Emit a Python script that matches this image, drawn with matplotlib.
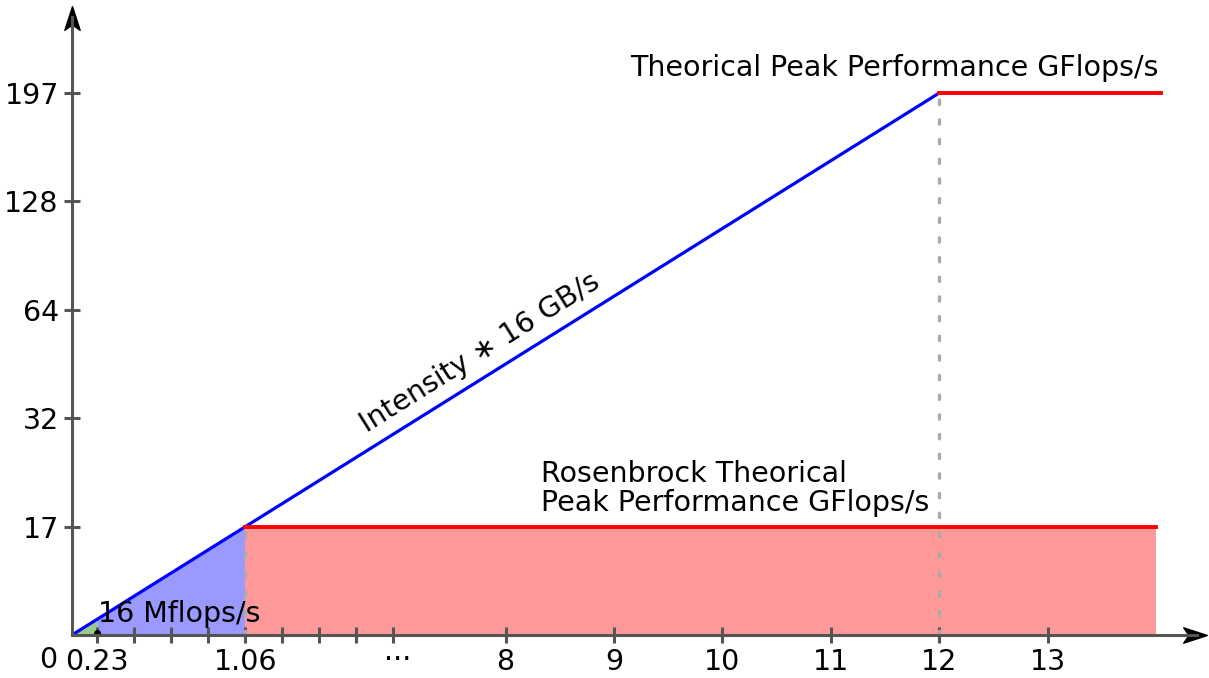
import matplotlib
matplotlib.use('Agg')
import matplotlib.pyplot as plt
from matplotlib.path import Path

# positions along the (schematic) axes and the labels shown there
x_ticks = [0.23, 0.57, 0.91, 1.25, 1.6, 1.94, 2.28, 2.62, 2.96, 4, 5, 6, 7, 8, 9]
x_labels = ['0.23', '', '', '', '1.06', '', '', '', '', '8', '9', '10', '11', '12', '13']
y_ticks = [1, 2, 3, 4, 5]
y_labels = ['17', '32', '64', '128', '197']

low_x = 0.23        # 0.23 intensity -> 16 Mflops/s
ridge_x = 1.6       # 1.06 intensity, Rosenbrock peak (17)
peak_x = 8          # 12 intensity, machine peak (197)
peak_y = 5
ridge_y = 1
rosen_end = 10.0
peak_end = 10.05

slope = peak_y / peak_x
fs = 20.5

fig = plt.figure(figsize=(12.09, 6.78), dpi=100)
ax = fig.add_axes([0, 0, 1, 1])
ax.set_xlim(-72 / 108.4, (1209 - 72) / 108.4)
ax.set_ylim(-43 / 108.4, 635 / 108.4)

axis_col = '#555555'
for side in ['top', 'right']:
    ax.spines[side].set_visible(False)
ax.spines['left'].set_position(('data', 0))
ax.spines['bottom'].set_position(('data', 0))
ax.spines['left'].set_bounds(0, 5.7)
ax.spines['bottom'].set_bounds(0, 10.38)
for side in ['left', 'bottom']:
    ax.spines[side].set_color(axis_col)
    ax.spines[side].set_linewidth(2.2)

ax.set_xticks(x_ticks)
ax.set_xticklabels(x_labels)
ax.set_yticks(y_ticks)
ax.set_yticklabels(y_labels)
ax.tick_params(direction='inout', length=11, width=2.2, color=axis_col,
               labelsize=fs, pad=4)

# arrow heads at the ends of both axes
head_up = Path([(0, 1), (-0.65, -1), (0, -0.55), (0.65, -1), (0, 1)],
               [Path.MOVETO, Path.LINETO, Path.LINETO, Path.LINETO, Path.CLOSEPOLY])
head_right = Path([(1, 0), (-1, 0.65), (-0.55, 0), (-1, -0.65), (1, 0)],
                  [Path.MOVETO, Path.LINETO, Path.LINETO, Path.LINETO, Path.CLOSEPOLY])
ax.plot([0], [5.69], marker=head_up, markersize=17, color='black', clip_on=False)
ax.plot([10.36], [0], marker=head_right, markersize=17, color='black', clip_on=False)

# filled regions
ax.fill_between([0, low_x], [0, 0], [0, slope * low_x], color='#99cc88', lw=0)
ax.fill_between([low_x, ridge_x], [0, 0], [slope * low_x, slope * ridge_x],
                color='#9999ff', lw=0)
ax.fill_between([ridge_x, rosen_end], [0, 0], [ridge_y, ridge_y], color='#ff9999', lw=0)

# guides
ax.plot([ridge_x, ridge_x], [0, ridge_y], color='#aaaaaa', lw=2.4,
        dashes=(1.3, 4.6), dash_capstyle='round')
ax.plot([peak_x, peak_x], [0, peak_y], color='#aaaaaa', lw=2.4,
        dashes=(1.3, 4.6), dash_capstyle='round')

# roofs
ax.plot([0, peak_x], [0, peak_y], color='#0000ff', lw=2.3, solid_capstyle='butt')
ax.plot([ridge_x, rosen_end], [ridge_y, ridge_y], color='#ff0000', lw=2.8)
ax.plot([peak_x, peak_end], [peak_y, peak_y], color='#ff0000', lw=2.8)

ax.plot([low_x], [0.02], 'o', color='black', markersize=4)

# labels
ax.text(-0.22, -0.23, '0', fontsize=fs, ha='center', va='center')
ax.text(3.0, -0.232, '...', fontsize=fs, ha='center', va='baseline')
ax.text(0.24, 0.19, '16 Mflops/s', fontsize=fs, ha='left', va='center')
ax.text(5.15, 5.23, 'Theorical Peak Performance GFlops/s', fontsize=fs,
        ha='left', va='center')
ax.text(4.33, 1.35, 'Rosenbrock Theorical\nPeak Performance GFlops/s', fontsize=fs,
        ha='left', va='center', linespacing=1.04)
ax.text(3.76, 2.6, 'Intensity ∗ 16 GB/s', fontsize=fs, ha='center', va='center',
        rotation=32, rotation_mode='anchor')

fig.savefig('out.png', dpi=100)
